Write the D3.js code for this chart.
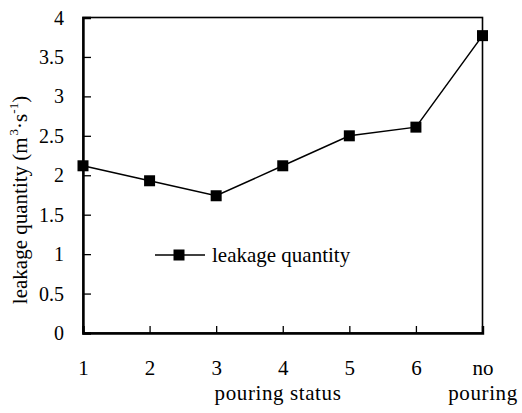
<!DOCTYPE html>
<html>
<head>
<meta charset="utf-8">
<script src="https://cdn.jsdelivr.net/npm/d3@7"></script>
<style>
  html, body { margin: 0; padding: 0; background: #fff; }
  svg { display: block; }
  text { font-family: "Liberation Serif", "Times New Roman", serif; fill: #000; }
</style>
</head>
<body>
<svg id="chart" width="522" height="413"></svg>
<script>
// Leakage quantity for each pouring status
const categories = ["1", "2", "3", "4", "5", "6", "no pouring"];
const leakage = [2.12, 1.93, 1.74, 2.12, 2.50, 2.61, 3.77];
const yTicks = [0, 0.5, 1, 1.5, 2, 2.5, 3, 3.5, 4];
const seriesName = "leakage quantity";
const xTitle = "pouring status";

const plot = { left: 83, top: 17.5, right: 482.5, bottom: 333 };
const svg = d3.select("#chart");

const x = d3.scalePoint().domain(categories).range([plot.left, plot.right]).padding(0);
const y = d3.scaleLinear().domain([0, 4]).range([plot.bottom, plot.top]);

// frame
svg.append("rect")
  .attr("x", plot.left).attr("y", plot.top)
  .attr("width", plot.right - plot.left).attr("height", plot.bottom - plot.top)
  .attr("fill", "none").attr("stroke", "#000").attr("stroke-width", 1.6);

// y axis, ticks pointing inward
const yAxis = svg.append("g")
  .attr("transform", `translate(${plot.left},0)`)
  .call(d3.axisLeft(y).tickValues(yTicks).tickSize(-8).tickPadding(19)
    .tickFormat(d => String(d)));
yAxis.select(".domain").attr("stroke-width", 2.4);
yAxis.selectAll(".tick line").attr("stroke-width", 1.3);
yAxis.selectAll("text").attr("font-size", 20).attr("dy", "0.33em");

// x axis, ticks pointing inward
const xAxis = svg.append("g")
  .attr("transform", `translate(0,${plot.bottom})`)
  .call(d3.axisBottom(x).tickSize(-7).tickPadding(0).tickFormat(""));
xAxis.select(".domain").attr("stroke-width", 2.4);
xAxis.selectAll(".tick line").attr("stroke-width", 1.3);

// category labels (multi-word labels wrap onto two lines)
xAxis.selectAll(".tick").each(function (d) {
  const t = d3.select(this).append("text")
    .attr("text-anchor", "middle")
    .attr("font-size", 21)
    .attr("y", 42);
  d.split(" ").forEach((w, i) => {
    t.append("tspan").attr("x", 0).attr("dy", i === 0 ? 0 : 25)
      .attr("letter-spacing", i === 0 ? 0 : 0.6).text(w);
  });
});

// x axis title
svg.append("text")
  .attr("x", 278)
  .attr("y", 400)
  .attr("text-anchor", "middle")
  .attr("font-size", 21)
  .attr("letter-spacing", 0.6)
  .text(xTitle);

// y axis title with superscripts
const yt = svg.append("text")
  .attr("transform", `translate(27,200) rotate(-90)`)
  .attr("text-anchor", "middle")
  .attr("font-size", 21);
yt.append("tspan").text("leakage quantity (m");
yt.append("tspan").attr("font-size", 13).attr("dy", -9).attr("dx", 2).text("3");
yt.append("tspan").attr("dy", 9).text("·s");
yt.append("tspan").attr("font-size", 13).attr("dy", -9).text("-1");
yt.append("tspan").attr("dy", 9).text(")");

// series line
const line = d3.line().x((d, i) => x(categories[i])).y(d => y(d));
svg.append("path")
  .datum(leakage)
  .attr("d", line)
  .attr("fill", "none").attr("stroke", "#000").attr("stroke-width", 1.5);

const ms = 11;
svg.selectAll("rect.marker")
  .data(leakage)
  .join("rect")
  .attr("class", "marker")
  .attr("x", (d, i) => x(categories[i]) - ms / 2)
  .attr("y", d => y(d) - ms / 2)
  .attr("width", ms).attr("height", ms)
  .attr("fill", "#000");

// legend
const lg = svg.append("g").attr("transform", "translate(155,255)");
lg.append("line").attr("x1", 0).attr("x2", 50).attr("y1", 0).attr("y2", 0)
  .attr("stroke", "#000").attr("stroke-width", 1.5);
lg.append("rect").attr("x", 24 - ms / 2).attr("y", -ms / 2)
  .attr("width", ms).attr("height", ms).attr("fill", "#000");
lg.append("text").attr("x", 57).attr("y", 0).attr("dy", "0.33em")
  .attr("font-size", 21).text(seriesName);
</script>
</body>
</html>
